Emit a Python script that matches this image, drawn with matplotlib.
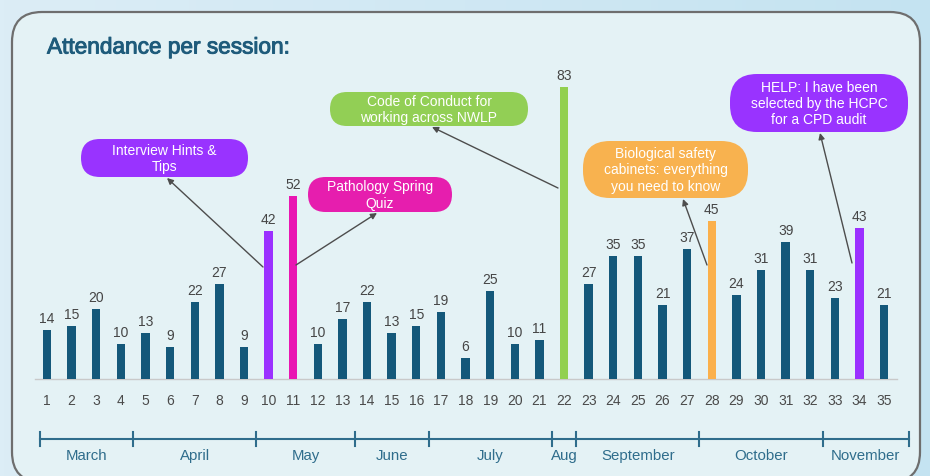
import matplotlib
matplotlib.use("Agg")
import matplotlib.pyplot as plt
import matplotlib.patheffects as pe
import numpy as np
from matplotlib.colors import LinearSegmentedColormap
from matplotlib.patches import FancyBboxPatch

plt.rcParams["font.family"] = ["Liberation Sans", "DejaVu Sans"]

# data
sessions = list(range(1, 36))
attendance = [14, 15, 20, 10, 13, 9, 22, 27, 9, 42, 52, 10, 17, 22, 13, 15, 19, 6,
              25, 10, 11, 83, 27, 35, 35, 21, 37, 45, 24, 31, 39, 31, 23, 43, 21]
highlight = {10: "#9b30ff", 11: "#e916b2", 22: "#92d050", 28: "#fbb04b", 34: "#9b30ff"}
months = ["March", "April", "May", "June", "July", "Aug", "September", "October", "November"]
month_edges = [0.7, 4.5, 9.5, 13.5, 16.5, 21.5, 22.5, 27.5, 32.5, 36.0]

# callouts: text, colour, box (left, top, width, height) in px, arrow start px, arrow tip px
callouts = [
    ("Interview Hints &\nTips", "#9933ff", (81, 140, 167, 38), (263, 268), (167, 179)),
    ("Pathology Spring\nQuiz", "#e61eae", (308, 178, 144, 35), (296, 266), (377, 214)),
    ("Code of Conduct for\nworking across NWLP", "#92cf55", (330, 93, 198, 34), (558, 189), (432, 128)),
    ("Biological safety\ncabinets: everything\nyou need to know", "#f8b24f", (583, 142, 165, 57), (707, 266), (683, 200)),
    ("HELP: I have been\nselected by the HCPC\nfor a CPD audit", "#9933ff", (730, 75, 178, 58), (852, 264), (820, 134)),
]

W, H = 930, 477
BAR = "#14587a"

fig = plt.figure(figsize=(W / 100, H / 100), dpi=100)

# background + panel in pixel coords
bg = fig.add_axes([0, 0, 1, 1])
bg.set_xlim(0, W)
bg.set_ylim(H, 0)
bg.axis("off")
outer = LinearSegmentedColormap.from_list("outer", ["#dcedf6", "#c4e3f1"])
grad = np.linspace(0, 1, 256).reshape(1, -1)
bg.imshow(grad, cmap=outer, extent=(0, W, H, 0), aspect="auto", zorder=0)

panel = FancyBboxPatch((12, 13), 908, 470, boxstyle="round,pad=0,rounding_size=30",
                       facecolor="#e4f2f5", edgecolor="#6e6e6e", lw=1.6, zorder=1)
bg.add_patch(panel)

bg.text(47, 48, "Attendance per session:", fontsize=16.3, color="#1e5b7b",
        ha="left", va="center", zorder=3,
        path_effects=[pe.withStroke(linewidth=0.7, foreground="#1e5b7b")])

# bars in data coords, axes spans whole figure
ax = fig.add_axes([0, 0, 1, 1])
ax.patch.set_alpha(0)
px_per_unit = 3.518
x_step = 24.62
ax.set_xlim(1 - 47 / x_step, 1 + (W - 47) / x_step)
ax.set_ylim((380 - H) / px_per_unit, 380 / px_per_unit)
ax.axis("off")

colors = [highlight.get(s, BAR) for s in sessions]
ax.bar(sessions, attendance, width=0.34, color=colors, zorder=3)

for s, v in zip(sessions, attendance):
    ax.annotate(str(v), (s, v), xytext=(0, 3.5), textcoords="offset points",
                ha="center", va="bottom", fontsize=10, color="#454545", zorder=4)

xt = ax.get_xaxis_transform()


def fy(p):
    return 1 - p / H


ax.plot([1 - 12 / x_step, 35 + 13 / x_step], [fy(380), fy(380)], transform=xt,
        color="#c9c9c9", lw=1, zorder=2)
for s in sessions:
    ax.text(s, fy(401), str(s), transform=xt, ha="center", va="center",
            fontsize=10, color="#4a4a4a")

# month timeline
MC = "#2f6d8c"
ax.plot([month_edges[0], month_edges[-1]], [fy(440), fy(440)], transform=xt,
        color=MC, lw=1.5, zorder=3)
for e in month_edges:
    ax.plot([e, e], [fy(433), fy(447)], transform=xt, color=MC, lw=1.5, zorder=3)
for m, a, b in zip(months, month_edges[:-1], month_edges[1:]):
    ax.text((a + b) / 2, fy(456), m, transform=xt, ha="center", va="center",
            fontsize=10.8, color=MC)

# callouts on top
top = fig.add_axes([0, 0, 1, 1])
top.patch.set_alpha(0)
top.set_xlim(0, W)
top.set_ylim(H, 0)
top.axis("off")
for text, col, (x0, y0, w, h), start, tip in callouts:
    r = min(h / 2, 27)
    top.add_patch(FancyBboxPatch((x0, y0), w, h, boxstyle=f"round,pad=0,rounding_size={r}",
                                 facecolor=col, edgecolor="none", zorder=5))
    top.text(x0 + w / 2, y0 + h / 2, text, ha="center", va="center", fontsize=10,
             color="white", linespacing=1.2, zorder=6)
    top.annotate("", xy=tip, xytext=start,
                 arrowprops=dict(arrowstyle="-|>", lw=1, color="#4d4d4d",
                                 shrinkA=0, shrinkB=0, mutation_scale=9), zorder=6)

fig.savefig("out.png", dpi=100)
